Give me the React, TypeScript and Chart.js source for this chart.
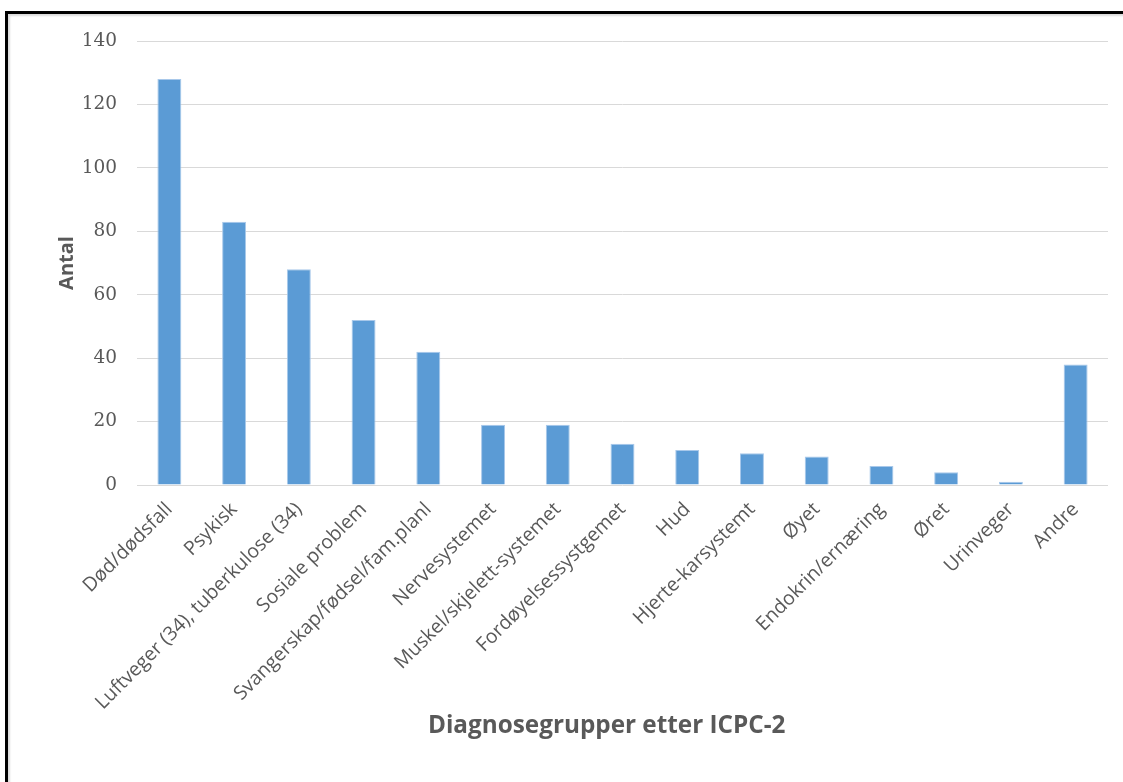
import React, { useEffect, useRef } from "react";
import { Chart, registerables } from "chart.js";

Chart.register(...registerables);

const categories: string[] = [
  "Død/dødsfall",
  "Psykisk",
  "Luftveger (34), tuberkulose (34)",
  "Sosiale problem",
  "Svangerskap/fødsel/fam.planl",
  "Nervesystemet",
  "Muskel/skjelett-systemet",
  "Fordøyelsessystgemet",
  "Hud",
  "Hjerte-karsystemt",
  "Øyet",
  "Endokrin/ernæring",
  "Øret",
  "Urinveger",
  "Andre",
];

const values: number[] = [128, 83, 68, 52, 42, 19, 19, 13, 11, 10, 9, 6, 4, 1, 38];

const yMin = 0;
const yMax = 140;
const yStep = 20;

const yTitle = "Antal";
const xTitle = "Diagnosegrupper etter ICPC-2";

export default function App() {
  const canvasRef = useRef<HTMLCanvasElement | null>(null);

  useEffect(() => {
    if (!canvasRef.current) return;
    const chart = new Chart(canvasRef.current, {
      type: "bar",
      data: {
        labels: categories,
        datasets: [
          {
            data: values,
            backgroundColor: "#5B9BD5",
            borderColor: "#A8C8EA",
            borderWidth: 1,
            categoryPercentage: 1,
            barPercentage: 0.37,
          },
        ],
      },
      options: {
        responsive: false,
        animation: false,
        devicePixelRatio: 1,
        layout: { padding: { top: 41, right: 15, left: 0, bottom: 0 } },
        plugins: {
          legend: { display: false },
          tooltip: { enabled: false },
          title: { display: false },
        },
        scales: {
          x: {
            grid: { display: false, drawTicks: false },
            border: { display: false },
            ticks: {
              autoSkip: false,
              maxRotation: 45,
              minRotation: 45,
              padding: 13,
              color: "#595959",
              font: { family: "'Open Sans'", size: 19.5 },
            },
            afterFit: (scale: any) => {
              scale.height = 297;
            },
          },
          y: {
            min: yMin,
            max: yMax,
            grid: { color: "#D9D9D9", lineWidth: 1, drawTicks: false },
            border: { display: false },
            ticks: {
              stepSize: yStep,
              padding: 20,
              color: "#595959",
              font: { family: "'DejaVu Serif'", size: 18.5 },
            },
            title: {
              display: true,
              text: yTitle,
              color: "#595959",
              font: { family: "'Open Sans'", size: 20, weight: "bold" },
              padding: { top: 55, bottom: 0 },
            },
            afterFit: (scale: any) => {
              scale.width = 137;
            },
          },
        },
      },
    });
    return () => chart.destroy();
  }, []);

  return (
    <div
      style={{
        position: "absolute",
        left: 0,
        top: 0,
        width: 1123,
        height: 782,
        overflow: "hidden",
        background: "#ffffff",
      }}
    >
      <canvas
        ref={canvasRef}
        width={1123}
        height={782}
        style={{ position: "absolute", left: 0, top: 0 }}
      />
      <div
        style={{
          position: "absolute",
          left: 606.7,
          top: 712,
          transform: "translateX(-50%)",
          whiteSpace: "nowrap",
          fontFamily: "'Open Sans'",
          fontWeight: "bold",
          fontSize: 24.3,
          lineHeight: "24px",
          color: "#595959",
        }}
      >
        {xTitle}
      </div>
      <div
        style={{
          position: "absolute",
          left: 5,
          top: 11,
          right: -10,
          bottom: -10,
          borderTop: "3px solid #000",
          borderLeft: "3px solid #000",
          boxShadow: "inset 2px 2px 2px #dcdcdc",
          pointerEvents: "none",
        }}
      />
    </div>
  );
}
